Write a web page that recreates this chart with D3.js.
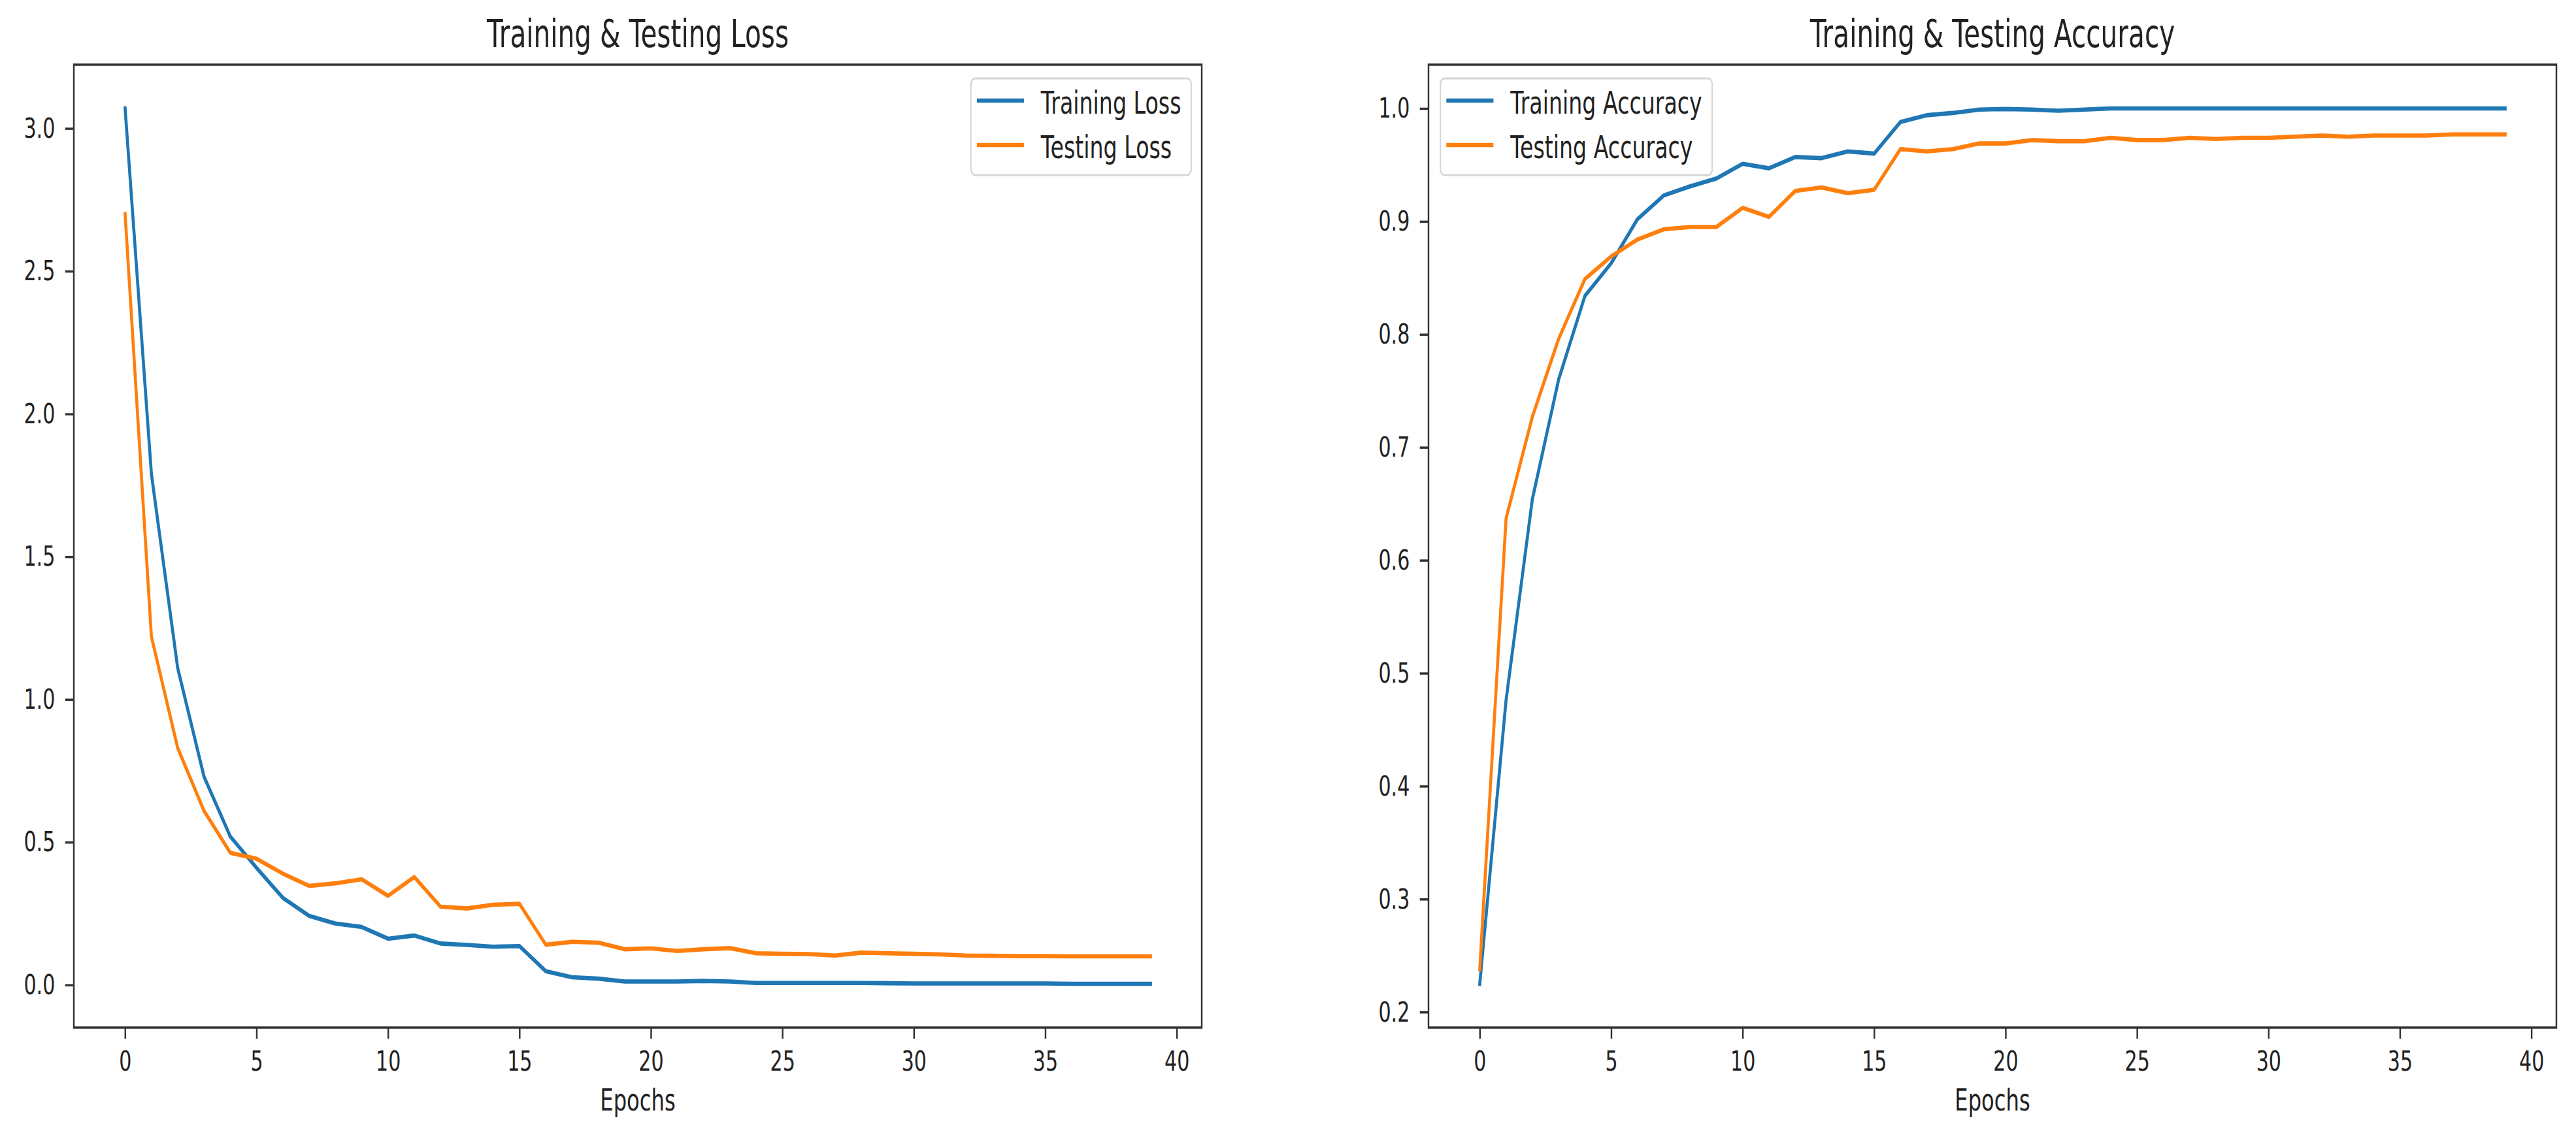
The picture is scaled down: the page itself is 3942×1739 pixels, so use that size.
<!DOCTYPE html>
<html>
<head>
<meta charset="utf-8">
<script src="https://cdn.jsdelivr.net/npm/d3@7"></script>
<style>
  html, body { margin: 0; padding: 0; background: #fff; }
  svg { display: block; }
  text { font-family: "DejaVu Sans", sans-serif; fill: #222; }
</style>
</head>
<body>
<div id="chart"></div>
<script>
/* ---- Data ---- */
const epochs = d3.range(40);

const trainLoss = [3.07, 1.79, 1.11, 0.73, 0.52, 0.41, 0.305, 0.242, 0.215, 0.203,
  0.162, 0.173, 0.145, 0.140, 0.134, 0.136, 0.048, 0.027, 0.022, 0.012,
  0.012, 0.012, 0.014, 0.012, 0.007, 0.007, 0.007, 0.007, 0.007, 0.006,
  0.005, 0.005, 0.005, 0.005, 0.005, 0.005, 0.004, 0.004, 0.004, 0.004];

const testLoss = [2.70, 1.22, 0.83, 0.61, 0.463, 0.442, 0.39, 0.347, 0.356, 0.370,
  0.312, 0.378, 0.274, 0.268, 0.281, 0.284, 0.141, 0.151, 0.148, 0.125,
  0.128, 0.119, 0.125, 0.129, 0.111, 0.109, 0.108, 0.103, 0.113, 0.111,
  0.109, 0.107, 0.103, 0.102, 0.101, 0.101, 0.100, 0.100, 0.100, 0.100];

const trainAcc = [0.225, 0.476, 0.654, 0.760, 0.834, 0.863, 0.902, 0.923, 0.931, 0.938,
  0.951, 0.947, 0.957, 0.956, 0.962, 0.960, 0.988, 0.994, 0.996, 0.999,
  0.9995, 0.999, 0.998, 0.999, 1.0, 1.0, 1.0, 1.0, 1.0, 1.0,
  1.0, 1.0, 1.0, 1.0, 1.0, 1.0, 1.0, 1.0, 1.0, 1.0];

const testAcc = [0.238, 0.637, 0.727, 0.796, 0.849, 0.869, 0.884, 0.893, 0.895, 0.895,
  0.912, 0.904, 0.927, 0.930, 0.925, 0.928, 0.964, 0.962, 0.964, 0.969,
  0.969, 0.972, 0.971, 0.971, 0.974, 0.972, 0.972, 0.974, 0.973, 0.974,
  0.974, 0.975, 0.976, 0.975, 0.976, 0.976, 0.976, 0.977, 0.977, 0.977];

const epochTicks = [0, 5, 10, 15, 20, 25, 30, 35, 40];
const lossTicks  = [0.0, 0.5, 1.0, 1.5, 2.0, 2.5, 3.0];
const accTicks   = [0.2, 0.3, 0.4, 0.5, 0.6, 0.7, 0.8, 0.9, 1.0];

const BLUE = '#1f77b4', ORANGE = '#ff7f0e';

/* ---- Figure: the reference is a squeezed matplotlib figure, so draw in
   wider "native" units and squash horizontally via the viewBox ---- */
const OUT_W = 3942, OUT_H = 1739;
const SX = 0.70;
const NW = OUT_W / SX;

const svg = d3.select('#chart').append('svg')
  .attr('width', OUT_W).attr('height', OUT_H)
  .attr('viewBox', `0 0 ${NW} ${OUT_H}`)
  .attr('preserveAspectRatio', 'none');

const AX_TOP = 99, AX_BOT = 1573;
const AX_W = 1726 / SX;

function pad5(vals) {
  const [lo, hi] = d3.extent(vals);
  const m = (hi - lo) * 0.05;
  return [lo - m, hi + m];
}

function panel(opts) {
  const x0 = opts.left / SX;
  const g = svg.append('g').attr('transform', `translate(${x0},0)`);

  const x = d3.scaleLinear().domain([-1.95, 40.95]).range([0, AX_W]);
  const y = d3.scaleLinear().domain(pad5(opts.series[0].values.concat(opts.series[1].values)))
    .range([AX_BOT, AX_TOP]);

  // lines
  const line = d3.line().x((d, i) => x(epochs[i])).y(d => y(d));
  opts.series.forEach(s => {
    g.append('path').datum(s.values)
      .attr('d', line)
      .attr('fill', 'none')
      .attr('stroke', s.color)
      .attr('stroke-width', 6.6)
      .attr('stroke-linejoin', 'round')
      .attr('stroke-linecap', 'square');
  });

  // x axis
  const xa = g.append('g').attr('transform', `translate(0,${AX_BOT})`)
    .call(d3.axisBottom(x).tickValues(epochTicks).tickFormat(d3.format('d'))
      .tickSize(17).tickPadding(18));
  // y axis
  const ya = g.append('g')
    .call(d3.axisLeft(y).tickValues(opts.yTicks).tickFormat(d3.format('.1f'))
      .tickSize(19).tickPadding(22));
  [xa, ya].forEach(a => {
    a.select('.domain').remove();
    a.selectAll('.tick line').attr('stroke', '#333').attr('stroke-width', 3.5);
    a.selectAll('.tick text').style('font-size', '43px').attr('fill', '#222');
  });

  // spines
  g.append('rect')
    .attr('x', 0).attr('y', AX_TOP)
    .attr('width', AX_W).attr('height', AX_BOT - AX_TOP)
    .attr('fill', 'none').attr('stroke', '#333').attr('stroke-width', 3.5);

  // title and x label
  g.append('text').attr('x', AX_W / 2).attr('y', 72)
    .attr('text-anchor', 'middle').style('font-size', '58px').attr('fill', '#111')
    .text(opts.title);
  g.append('text').attr('x', AX_W / 2).attr('y', 1700)
    .attr('text-anchor', 'middle').style('font-size', '46px').attr('fill', '#222')
    .text('Epochs');

  // legend
  const FS = 47.5, PADL = 13, HANDLE = 103, GAP = 37, PADR = 22;
  const lg = g.append('g');
  const box = lg.append('rect')
    .attr('rx', 9).attr('ry', 9)
    .attr('fill', 'white').attr('fill-opacity', 0.85)
    .attr('stroke', '#d6d6d6').attr('stroke-width', 3);
  let maxLen = 0;
  opts.series.forEach((s, i) => {
    const cy = 34 + i * 68;
    lg.append('line').attr('x1', PADL).attr('x2', PADL + HANDLE)
      .attr('y1', cy).attr('y2', cy)
      .attr('stroke', s.color).attr('stroke-width', 6.6);
    const t = lg.append('text').attr('x', PADL + HANDLE + GAP).attr('y', cy + 20)
      .style('font-size', FS + 'px').attr('fill', '#222').text(s.label);
    maxLen = Math.max(maxLen, t.node().getComputedTextLength());
  });
  const bw = PADL + HANDLE + GAP + maxLen + PADR;
  box.attr('x', 0).attr('y', 0).attr('width', bw).attr('height', 148);
  const lx = opts.legendRight ? AX_W - 23 - bw : 26;
  lg.attr('transform', `translate(${lx},${AX_TOP + 21})`);
}

panel({
  left: 113,
  title: 'Training & Testing Loss',
  yTicks: lossTicks,
  legendRight: true,
  series: [
    { label: 'Training Loss', values: trainLoss, color: BLUE },
    { label: 'Testing Loss',  values: testLoss,  color: ORANGE }
  ]
});

panel({
  left: 2186,
  title: 'Training & Testing Accuracy',
  yTicks: accTicks,
  legendRight: false,
  series: [
    { label: 'Training Accuracy', values: trainAcc, color: BLUE },
    { label: 'Testing Accuracy',  values: testAcc,  color: ORANGE }
  ]
});
</script>
</body>
</html>
